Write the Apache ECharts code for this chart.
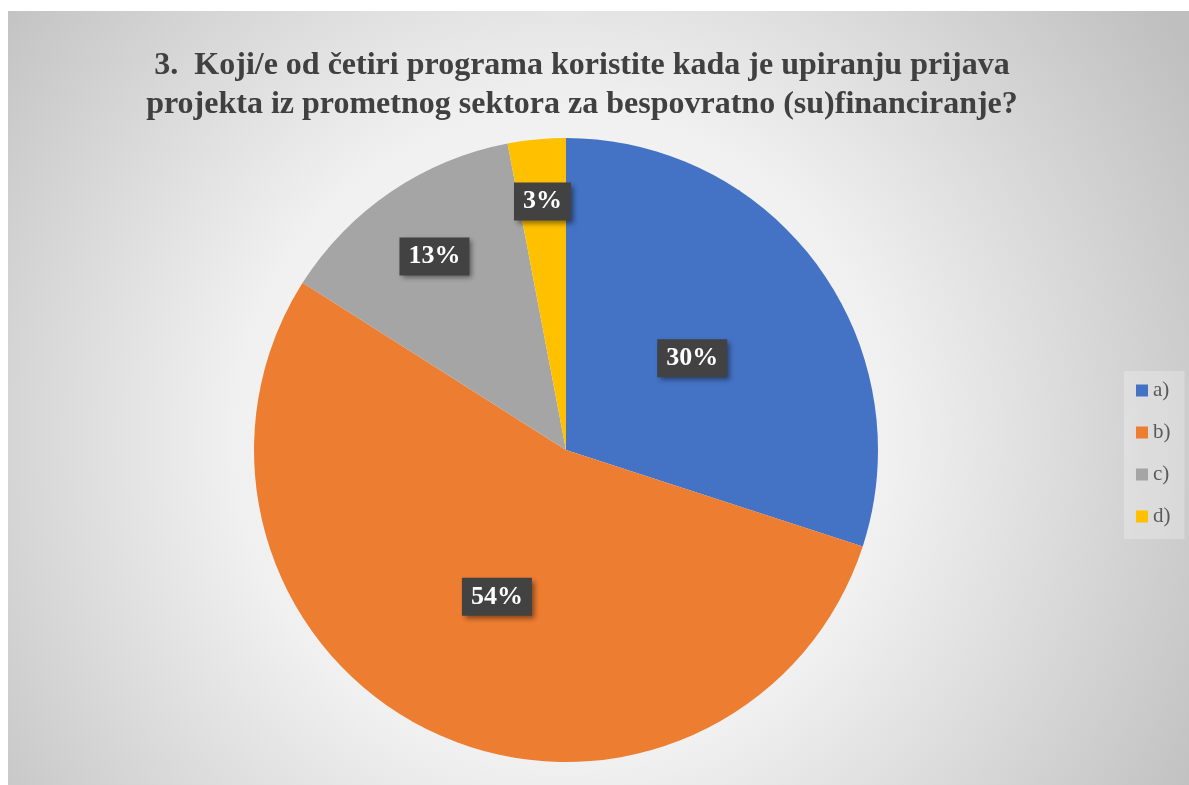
<!DOCTYPE html>
<html>
<head>
<meta charset="utf-8">
<script src="https://cdn.jsdelivr.net/npm/echarts@6/dist/echarts.min.js"></script>
<style>
  html, body { margin: 0; padding: 0; background: #fff; }
  #main { position: absolute; left: 8px; top: 11px; width: 1181px; height: 774px; }
</style>
</head>
<body>
<div id="main"></div>
<script>
var titleLines = ['3.  Koji/e od četiri programa koristite kada je upiranju prijava',
                  'projekta iz prometnog sektora za bespovratno (su)financiranje?'];
var categories = ['a)', 'b)', 'c)', 'd)'];
var percents = [30, 54, 13, 3];
var colors = ['#4472C4', '#ED7D31', '#A5A5A5', '#FFC000'];

// where each label sits, as a share of the radius (small slices further out)
var labelDist = [0.5, 0.52, 0.75, 0.8];
var cx = 558, cy = 439, radius = 312;

var chart = echarts.init(document.getElementById('main'));

var total = percents.reduce(function (a, b) { return a + b; }, 0);
var midAngles = [];
var acc = 0;
for (var i = 0; i < percents.length; i++) {
  midAngles.push((acc + percents[i] / 2) / total * 2 * Math.PI);
  acc += percents[i];
}

var option = {
  animation: false,
  backgroundColor: {
    type: 'radial', x: 0.47, y: 0.55, r: 0.95,
    colorStops: [
      { offset: 0, color: '#ffffff' },
      { offset: 0.45, color: '#f0f0f0' },
      { offset: 1, color: '#bfbfbf' }
    ]
  },
  color: colors,
  title: {
    text: titleLines.join('\n'),
    left: 569,
    top: 30,
    textAlign: 'center',
    textStyle: {
      fontFamily: 'Liberation Serif',
      fontWeight: 'bold',
      fontSize: 32,
      lineHeight: 39,
      color: '#404040'
    }
  },
  legend: {
    orient: 'vertical',
    left: 1116,
    top: 360,
    icon: 'rect',
    itemWidth: 12,
    itemHeight: 12,
    itemGap: 21,
    padding: [9, 14, 12, 12],
    backgroundColor: 'rgba(255,255,255,0.25)',
    data: categories,
    textStyle: {
      fontFamily: 'Liberation Serif',
      fontSize: 21,
      color: '#595959'
    }
  },
  series: [{
    type: 'pie',
    center: [cx, cy],
    radius: [0, radius],
    startAngle: 90,
    clockwise: true,
    emphasis: { disabled: true },
    itemStyle: { borderWidth: 0 },
    label: {
      show: true,
      position: 'inside',
      formatter: '{c}%',
      fontFamily: 'Liberation Serif',
      fontWeight: 'bold',
      fontSize: 26,
      color: '#ffffff',
      backgroundColor: '#424242',
      padding: [6, 9],
      shadowBlur: 5,
      shadowOffsetX: 3,
      shadowOffsetY: 3,
      shadowColor: 'rgba(0,0,0,0.45)'
    },
    labelLayout: function (params) {
      var k = params.dataIndex;
      var d = labelDist[k] * radius;
      return {
        x: cx + d * Math.sin(midAngles[k]),
        y: cy - d * Math.cos(midAngles[k])
      };
    },
    data: categories.map(function (c, i) {
      return { name: c, value: percents[i] };
    })
  }]
};

chart.setOption(option);
</script>
</body>
</html>
